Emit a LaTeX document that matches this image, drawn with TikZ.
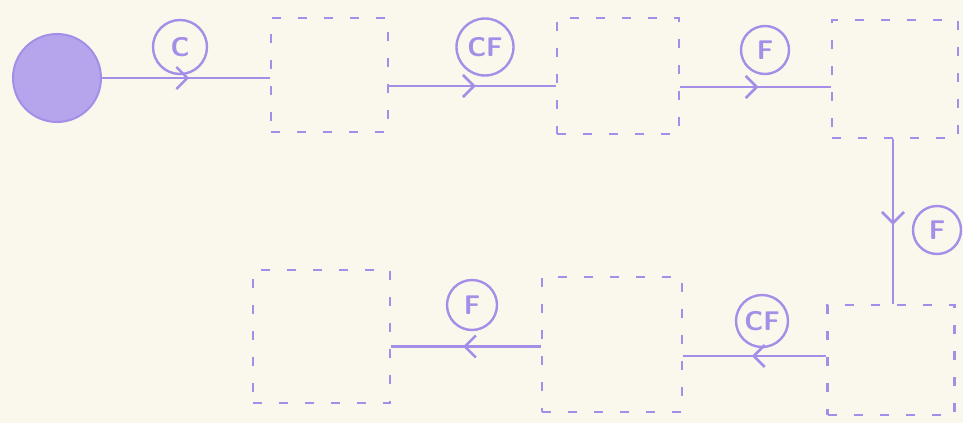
\documentclass[tikz,border=0pt]{standalone}
\usepackage{xcolor}
\usepackage{tikz}
\usetikzlibrary{positioning,arrows.meta,decorations.markings}

\definecolor{ink}{RGB}{165,142,232}
\definecolor{disc}{RGB}{182,165,236}
\definecolor{paper}{RGB}{250,248,237}

\begin{document}
\begin{tikzpicture}[
    x=1pt, y=-1pt,
    frame/.style={
      rectangle, draw=ink, line width=2.6pt,
      dash pattern=on 9pt off 17pt, inner sep=0pt
    },
    tag/.style={
      circle, draw=ink, line width=2.4pt, text=ink, inner sep=0pt,
      minimum size=48pt, font=\sffamily\bfseries\fontsize{27}{27}\selectfont
    },
    flow/.style={
      draw=ink, line width=2.8pt, postaction={decorate},
      decoration={markings, mark=at position 0.52 with
        {\arrow[color=ink]{Straight Barb[length=11pt,width=22pt,line width=2.6pt]}}}
    }
  ]
  \fill[paper] (0,0) rectangle (963,423);

  % start disc
  \node[circle, fill=disc, draw=ink, line width=2pt, minimum size=88pt, inner sep=0pt] (start) at (57,78) {};

  % Top row (left to right)
  \node[frame, minimum width=117pt, minimum height=114pt] (box1) at (329.5,75) {};
  \node[frame, minimum width=122pt, minimum height=116pt] (box2) at (618,76) {};
  \node[frame, minimum width=126pt, minimum height=118pt] (box3) at (895,79) {};

  % Bottom row (right to left)
  \node[frame, minimum width=127pt, minimum height=110pt] (box4) at (891,360) {};
  \node[frame, minimum width=140pt, minimum height=135pt] (box5) at (612,344.5) {};
  \node[frame, minimum width=137pt, minimum height=133pt] (box6) at (321.5,336.5) {};

  % Labels
  \node[tag, minimum size=54pt] (tagC) at (180,47) {C};
  \node[tag, minimum size=57pt] (tagCFa) at (485,47) {CF};
  \node[tag] (tagFa) at (765,50) {F};
  \node[tag] (tagFb) at (937,230) {F};
  \node[tag, minimum size=52pt] (tagCFb) at (762,321) {CF};
  \node[tag, minimum size=50pt] (tagFc) at (472,305) {F};

  % Snake arrows
  \draw[flow] (start) -- (start -| box1.west);
  \draw[flow] ([yshift=-11pt]box1.east) -- ([yshift=-11pt]box1.east -| box2.west);
  \draw[flow] ([yshift=-11pt]box2.east) -- ([yshift=-11pt]box2.east -| box3.west);
  \draw[flow] ([xshift=-2pt]box3.south) -- ([xshift=-2pt]box3.south |- box4.north);
  \draw[flow] ([yshift=4pt]box4.west) -- ([yshift=4pt]box4.west -| box5.east);
  \draw[flow] ([yshift=-2pt]box5.west) -- ([yshift=-2pt]box5.west -| box6.east);

\end{tikzpicture}
\end{document}
